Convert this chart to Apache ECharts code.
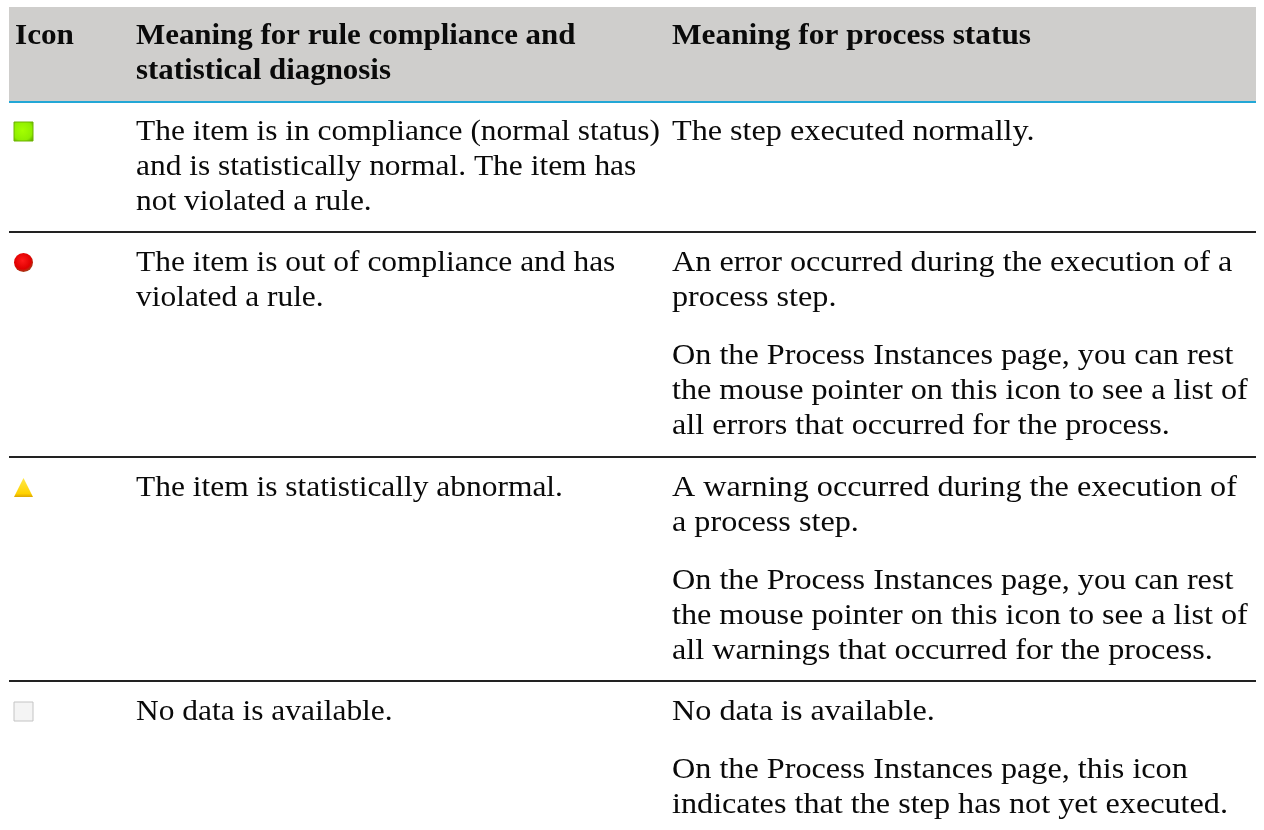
<!DOCTYPE html>
<html>
<head>
<meta charset="utf-8">
<style>html,body{margin:0;padding:0;background:#fff}#chart{width:1264px;height:830px}</style>
<script src="https://cdn.jsdelivr.net/npm/echarts@6/dist/echarts.min.js"></script>
</head>
<body>
<div id="chart"></div>
<script>
const columns = ['Icon', 'Meaning for rule compliance and\nstatistical diagnosis', 'Meaning for process status'];
const statuses = ['normal', 'error', 'warning', 'nodata'];
const ruleMeaning = [
  'The item is in compliance (normal status)\nand is statistically normal. The item has\nnot violated a rule.',
  'The item is out of compliance and has\nviolated a rule.',
  'The item is statistically abnormal.',
  'No data is available.'
];
const processMeaning = [
  'The step executed normally.',
  'An error occurred during the execution of a\nprocess step.',
  'A warning occurred during the execution of\na process step.',
  'No data is available.'
];
const processNote = [
  '',
  'On the Process Instances page, you can rest\nthe mouse pointer on this icon to see a list of\nall errors that occurred for the process.',
  'On the Process Instances page, you can rest\nthe mouse pointer on this icon to see a list of\nall warnings that occurred for the process.',
  'On the Process Instances page, this icon\nindicates that the step has not yet executed.'
];

// layout of the table, in page pixels
const colX = [15, 136, 672];
const rowY = [101, 232, 457, 681];
const paraGap = 23;
const tableLeft = 9, tableRight = 1256, tableTop = 7;
const lineH = 35;
const font = '"Liberation Serif", serif';
const fontSize = 30;
// Liberation Serif runs narrower than the original face
const bodyStretch = [1, 1.048, 1.073];
const boldStretch = [1.04, 1.03, 1.045];

const chart = echarts.init(document.getElementById('chart'));

const textBlock = (api, col, y, str, weight) => {
  const p = api.coord([colX[col], y]);
  return {
    type: 'text',
    x: p[0],
    y: p[1],
    scaleX: weight === 'bold' ? boldStretch[col] : bodyStretch[col],
    style: {
      x: 0,
      y: 0,
      text: str,
      fontFamily: font,
      fontSize: fontSize,
      fontWeight: weight,
      lineHeight: lineH,
      fill: '#0a0a0a',
      textVerticalAlign: 'top'
    }
  };
};

const renderHeader = (params, api) => {
  const a = api.coord([tableLeft, tableTop]);
  const b = api.coord([tableRight, rowY[0]]);
  const children = [
    { type: 'rect', shape: { x: a[0], y: a[1], width: b[0] - a[0], height: b[1] - a[1] }, style: { fill: '#cfcecc' } },
    { type: 'line', shape: { x1: a[0], y1: b[1] + 1, x2: b[0], y2: b[1] + 1 }, style: { stroke: '#22a7d6', lineWidth: 2 } }
  ];
  columns.forEach((c, i) => children.push(textBlock(api, i, 19, c, 'bold')));
  return { type: 'group', children };
};

const renderRow = (params, api) => {
  const i = params.dataIndex;
  const y = rowY[i] + 14;
  const children = [
    textBlock(api, 1, y, ruleMeaning[i], 'normal'),
    textBlock(api, 2, y, processMeaning[i], 'normal')
  ];
  if (processNote[i]) {
    const used = processMeaning[i].split('\n').length * lineH;
    children.push(textBlock(api, 2, y + used + paraGap, processNote[i], 'normal'));
  }
  if (i > 0) {
    const a = api.coord([tableLeft, rowY[i]]);
    const b = api.coord([tableRight, rowY[i]]);
    children.push({ type: 'line', shape: { x1: a[0], y1: a[1], x2: b[0], y2: b[1] }, style: { stroke: '#222', lineWidth: 2 } });
  }
  return { type: 'group', children };
};

const iconColor = {
  normal: new echarts.graphic.RadialGradient(0.45, 0.45, 0.7, [{ offset: 0, color: '#a4ff00' }, { offset: 0.7, color: '#8fee00' }, { offset: 1, color: '#5ea800' }]),
  error: new echarts.graphic.RadialGradient(0.45, 0.4, 0.6, [{ offset: 0, color: '#ff1a1a' }, { offset: 0.7, color: '#e00000' }, { offset: 1, color: '#9a4a20' }]),
  warning: new echarts.graphic.LinearGradient(0, 0, 0, 1, [{ offset: 0, color: '#ffe94d' }, { offset: 0.8, color: '#ffd200' }, { offset: 1, color: '#d8a000' }]),
  nodata: '#f4f4f4'
};
const iconShape = { normal: 'rect', error: 'circle', warning: 'triangle', nodata: 'rect' };
const iconBorder = { normal: '#6fb400', error: 'transparent', warning: 'transparent', nodata: '#c4c4c4' };

chart.setOption({
  animation: false,
  grid: { left: 0, right: 0, top: 0, bottom: 0 },
  xAxis: { type: 'value', min: 0, max: 1264, show: false },
  yAxis: { type: 'value', min: 0, max: 830, inverse: true, show: false },
  series: [
    {
      type: 'custom',
      coordinateSystem: 'cartesian2d',
      renderItem: renderHeader,
      data: [[tableLeft, tableTop]],
      silent: true
    },
    {
      type: 'custom',
      coordinateSystem: 'cartesian2d',
      renderItem: renderRow,
      data: rowY.map(y => [tableLeft, y]),
      silent: true
    },
    {
      type: 'scatter',
      silent: true,
      symbolSize: 19,
      data: statuses.map((s, i) => ({
        value: [23.5, rowY[i] + 30.5],
        symbol: iconShape[s],
        itemStyle: { color: iconColor[s], borderColor: iconBorder[s], borderWidth: 1, opacity: 1 }
      }))
    }
  ]
});
</script>
</body>
</html>
